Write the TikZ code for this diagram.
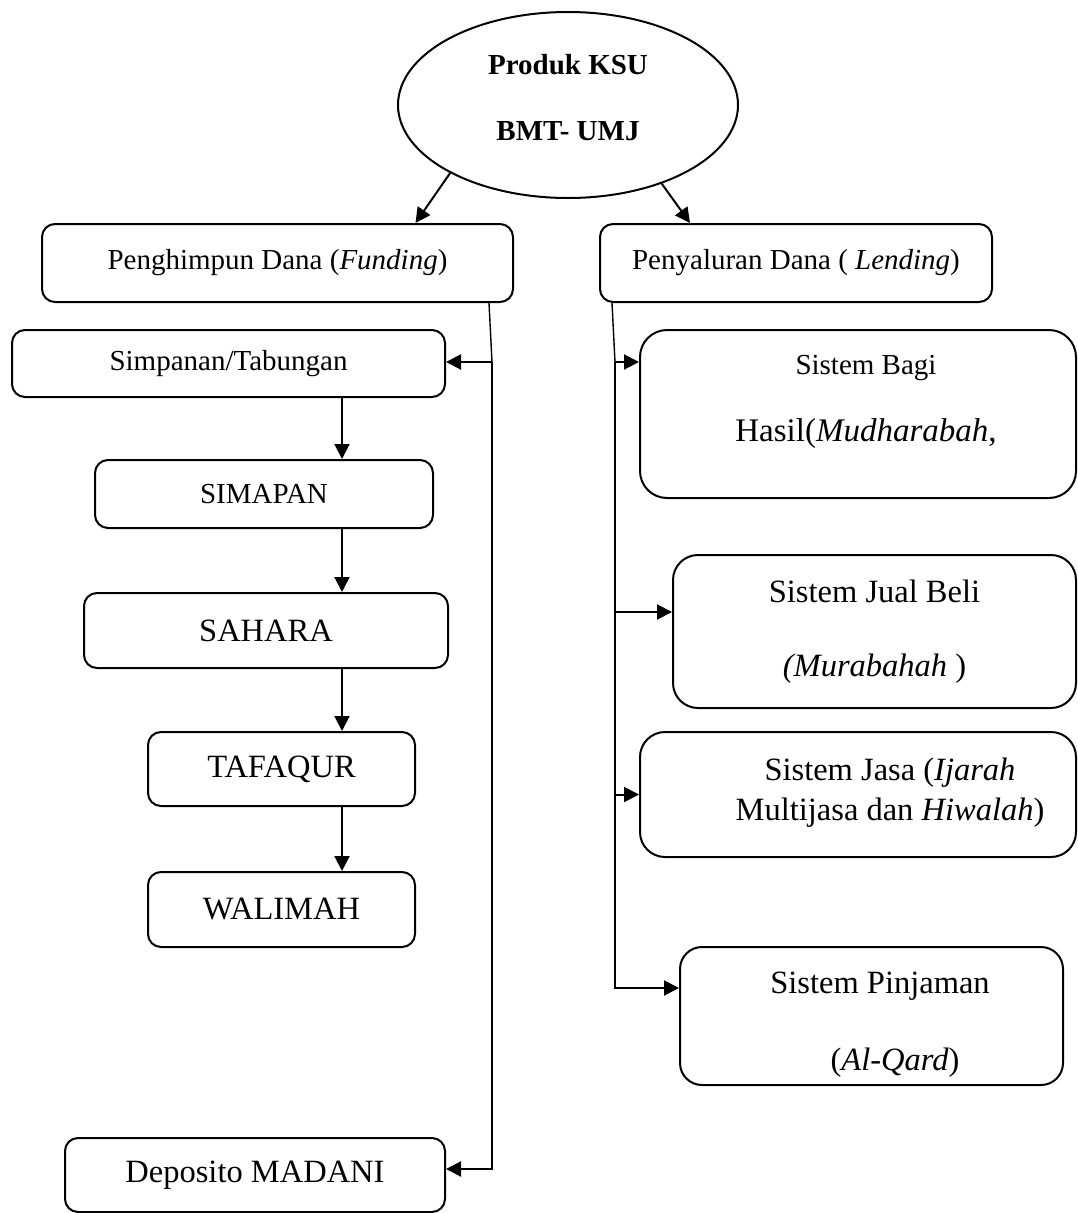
\documentclass[tikz,border=0pt]{standalone}
\usepackage{fontspec}
\setmainfont{Liberation Serif}
\usepackage{tikz}
\usetikzlibrary{shapes,arrows,positioning,calc}
\usetikzlibrary{arrows.meta}

\begin{document}
\begin{tikzpicture}[x=1pt,y=-1pt,
  box/.style={draw,line width=2pt,rounded corners=13pt,align=center,inner sep=0pt,
    font=\fontsize{29}{34}\selectfont},
  bigfont/.style={font=\fontsize{32.5}{38}\selectfont},
  bigbox/.style={box,bigfont,rounded corners=25pt},
  txt/.style={align=center,inner sep=0pt,bigfont},
  arr/.style={line width=2pt,-{Triangle[length=15pt,width=15pt]}},
  link/.style={line width=1.4pt}]
  \useasboundingbox (0,0) rectangle (1078,1213);

  % top
  \node[draw,ellipse,line width=2pt,minimum width=340pt,minimum height=186pt] (ksu) at (568,105) {};
  \node[txt,font=\fontsize{29}{34}\selectfont\bfseries] (ksu-t) at ($(ksu)+(0,-7)$) {Produk KSU\\[32pt]BMT- UMJ};

  \node[box,minimum width=471pt,minimum height=78pt] (fund) at (277.5,263) {Penghimpun Dana (\textit{Funding})};
  \node[box,minimum width=392pt,minimum height=78pt] (lend) at (796,263) {Penyaluran Dana ( \textit{Lending})};

  % funding side
  \node[box,minimum width=433pt,minimum height=67pt] (simp) at (228.5,363.5) {Simpanan/Tabungan};
  \node[box,minimum width=338pt,minimum height=68pt] (simapan) at (264,494) {SIMAPAN};
  \node[box,bigfont,minimum width=364pt,minimum height=75pt] (sahara) at (266,630.5) {SAHARA};
  \node[box,bigfont,minimum width=267pt,minimum height=74pt] (tafaqur) at (281.5,769) {TAFAQUR};
  \node[box,bigfont,minimum width=267pt,minimum height=75pt] (walimah) at (281.5,909.5) {WALIMAH};
  \node[box,bigfont,minimum width=380pt,minimum height=74pt] (depo) at (255,1175) {Deposito MADANI};

  % lending side
  \node[bigbox,rounded corners=27pt,minimum width=436pt,minimum height=168pt] (bagi) at (858,414) {};
  \node[txt,font=\fontsize{29}{34}\selectfont] (bagi-t) at ($(bagi)+(8,-12)$) {Sistem Bagi\\[33pt]{\fontsize{33}{34}\selectfont Hasil(\textit{Mudharabah},}};
  \node[bigbox,minimum width=403pt,minimum height=153pt] (jual) at (874.5,631.5) {Sistem Jual Beli\\[36pt]\textit{(Murabahah} )};
  \node[bigbox,minimum width=436pt,minimum height=125pt] (jasa) at (858,794.5) {};
  \node[txt] (jasa-t) at ($(jasa)+(32,-2)$) {Sistem Jasa (\textit{Ijarah}\\[2pt]Multijasa dan \textit{Hiwalah})};
  \node[bigbox,rounded corners=22pt,minimum width=383pt,minimum height=138pt] (pinjam) at (871.5,1016) {};
  \node[txt] (pinjam-t) at ($(pinjam)+(8.5,9)$) {Sistem Pinjaman\\[39pt]\hspace*{30pt}(\textit{Al-Qard})};

  \draw[arr] (ksu.210) -- ([xshift=138pt]fund.north);
  \draw[arr] (ksu.320) -- ([xshift=-106pt]lend.north);

  % left trunk
  \coordinate (jf) at ($(simp.east)+(46,-1.5)$);
  \draw[link] ([xshift=-25pt]fund.south east) -- (jf);
  \draw[arr] (jf) -- (jf -| simp.east);
  \draw[arr] (jf) |- ([yshift=6pt]depo.east);

  \coordinate (tr) at ([xshift=78pt]simapan.north);
  \foreach \a/\b in {simp/simapan,simapan/sahara,sahara/tafaqur,tafaqur/walimah}
    \draw[arr] (\a.south -| tr) -- (\b.north -| tr);

  % right trunk
  \coordinate (jl) at ($(bagi.west)+(-24,-52)$);
  \coordinate (aj) at ([yshift=19.5pt]jual.west);
  \coordinate (ap) at ([yshift=28pt]pinjam.west);
  \draw[link] ([xshift=13pt]lend.south west) -- (jl);
  \draw[arr] (jl) -- (jl -| bagi.west);
  \draw[arr] (jl |- aj) -- (aj);
  \draw[arr] (jl |- jasa.west) -- (jasa.west);
  \draw[arr] (jl) |- (ap);
\end{tikzpicture}
\end{document}
